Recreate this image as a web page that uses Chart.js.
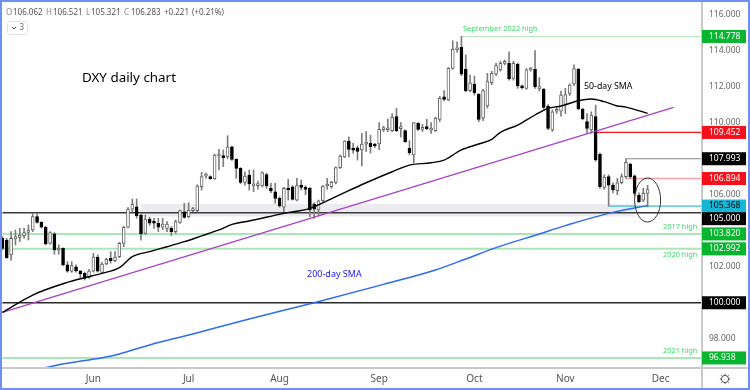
<!DOCTYPE html>
<html>
<head>
<meta charset="utf-8">
<script src="https://cdn.jsdelivr.net/npm/chart.js@4"></script>
<style>
html, body { margin: 0; padding: 0; background: #fff; }
#wrap { position: relative; width: 750px; height: 390px; }
#wrap:after { content: ''; position: absolute; left: 0; top: 0; right: 0; bottom: 0; border: 2px solid #6d90f2; box-sizing: border-box; pointer-events: none; }
canvas { display: block; }
</style>
</head>
<body>
<div id="wrap"><canvas id="myChart" width="750" height="390"></canvas></div>
<script>
// daily candles (first one early May, last one 28 Nov)
const opens = [103.58,103.48,102.65,103.54,103.63,103.72,103.91,104.04,104.78,104.46,
  104.19,103.30,103.82,102.93,103.02,102.10,101.76,102.00,101.76,101.63,
  101.41,101.76,102.54,101.69,102.15,102.47,102.34,102.56,103.30,104.19,
  105.20,105.33,104.87,103.85,104.65,104.45,104.41,104.19,104.13,104.13,
  103.95,104.46,105.05,104.78,105.11,105.11,106.44,107.03,107.00,106.89,
  108.15,108.16,108.10,108.66,107.96,107.46,106.68,107.09,106.49,106.50,
  106.48,107.12,106.35,106.16,105.79,105.30,106.35,106.44,105.70,106.53,
  106.40,106.35,105.48,105.15,105.66,106.48,106.44,106.68,107.50,108.10,
  108.97,108.57,108.60,108.48,108.80,108.85,108.75,108.81,109.61,109.60,
  109.55,110.33,109.66,109.55,108.57,108.20,109.96,109.62,109.77,109.58,
  109.55,110.18,111.43,111.25,113.01,114.03,114.17,112.97,111.77,112.14,
  111.58,110.24,110.92,112.21,112.69,112.92,113.28,113.29,112.45,113.23,
  112.03,111.90,112.92,112.95,111.86,111.84,110.92,109.59,110.63,110.63,
  111.00,111.62,112.14,112.97,110.75,110.05,109.59,110.33,108.23,106.40,
  107.00,106.53,106.22,106.66,107.00,107.70,107.05,105.98,105.70,106.062];
const highs = [103.67,103.57,103.95,104.04,104.13,104.13,104.32,104.96,104.96,104.50,
  104.25,103.95,103.90,103.21,103.05,102.28,102.28,102.10,101.80,101.70,
  101.85,102.74,102.65,102.25,102.47,102.84,102.84,103.35,104.25,105.28,
  105.76,105.76,104.95,104.87,104.75,104.69,104.69,104.69,104.50,104.22,
  104.59,105.15,105.52,105.55,105.30,106.55,107.24,107.20,107.05,108.25,
  108.51,108.48,109.27,108.70,108.00,107.50,107.27,107.37,107.37,106.75,
  107.27,107.18,106.63,106.63,105.89,106.40,106.85,106.50,106.90,106.81,
  106.50,106.40,105.55,105.70,106.50,106.90,106.75,107.55,108.20,109.00,
  109.20,108.85,108.70,109.40,109.50,109.30,108.85,110.00,109.80,110.20,
  110.50,110.79,110.00,109.60,109.00,110.00,110.00,109.90,110.18,110.00,
  110.30,111.45,111.77,113.05,114.54,114.48,114.78,113.75,112.64,112.58,
  111.60,111.85,112.73,112.85,113.30,113.40,113.47,113.93,113.40,113.30,
  112.10,113.00,113.05,113.99,112.50,111.90,111.00,110.70,110.90,111.75,
  111.90,112.15,113.20,113.00,110.80,110.50,110.60,110.97,108.30,107.10,
  107.10,106.65,106.90,107.15,107.99,107.75,107.10,106.10,106.35,106.521];
const lows = [102.93,102.47,102.37,103.21,103.39,103.58,103.48,103.95,104.41,104.15,
  103.21,103.25,102.69,102.69,102.05,101.69,101.69,101.70,101.39,101.26,
  101.35,101.70,101.70,101.65,102.10,102.20,102.28,102.50,103.11,104.15,
  105.05,104.69,103.48,103.80,104.30,104.13,103.95,104.05,103.95,103.72,
  103.85,104.40,104.69,104.70,105.05,105.05,106.25,106.90,106.85,106.85,
  107.37,107.55,108.00,107.90,106.90,106.60,106.53,106.25,106.16,106.30,
  106.42,106.35,106.11,105.52,105.30,105.05,105.70,105.70,105.65,106.26,
  106.00,104.78,104.68,104.87,105.60,106.30,106.35,106.60,107.45,108.05,
  108.10,108.30,107.92,107.60,108.40,108.30,108.60,108.50,109.50,109.50,
  109.50,109.50,109.20,108.90,108.20,107.74,109.55,109.50,109.60,109.40,
  109.50,110.05,111.20,111.20,112.95,113.90,112.60,111.70,111.70,111.53,
  110.05,110.10,110.80,112.10,112.60,112.85,113.20,112.35,112.35,111.90,
  111.85,111.85,112.85,111.90,111.75,110.75,109.60,109.50,110.50,110.35,
  110.50,111.50,112.05,110.70,110.15,109.40,109.40,107.85,106.35,106.30,
  105.37,106.10,106.00,106.60,106.90,106.90,105.95,105.55,105.60,105.321];
const closes = [103.02,102.50,103.58,103.67,103.76,103.89,104.04,104.78,104.46,104.19,
  103.26,103.89,102.93,103.02,102.10,101.76,102.06,101.78,101.60,101.35,
  101.76,102.54,101.76,102.15,102.41,102.34,102.54,103.30,104.19,105.20,
  105.46,104.83,103.82,104.65,104.41,104.41,104.19,104.37,104.37,103.95,
  104.50,105.11,104.74,105.15,105.18,106.48,107.00,107.07,106.89,108.20,
  108.16,108.05,108.66,107.96,107.46,106.68,107.03,106.59,106.53,106.52,
  107.22,106.48,106.20,105.79,105.37,106.35,106.26,105.74,106.50,106.40,
  106.29,105.15,105.20,105.66,106.48,106.50,106.68,107.50,108.14,108.97,
  108.51,108.47,108.40,108.81,108.82,108.66,108.70,109.62,109.63,109.66,
  110.29,109.53,109.68,108.94,108.33,110.00,109.62,109.73,109.66,109.62,
  110.23,111.34,111.28,113.01,114.06,114.15,112.69,111.77,112.21,111.66,
  110.18,111.77,112.27,112.73,113.16,113.29,113.29,112.42,113.29,112.03,
  111.93,112.92,112.95,111.99,111.99,110.84,109.68,110.60,110.67,111.53,
  111.55,112.08,113.00,110.75,110.20,109.68,110.42,107.92,106.44,106.96,
  106.53,106.26,106.66,107.00,107.79,107.00,106.07,105.61,106.07,106.283];

// moving averages, read at a few candles along each curve
const sma50Days = [0,7,15,19,23,27,30,34,38,42,46,50,53,57,65,71,77,84,90,94,99,102,106,110,113,115,119,123,126,129,133,136,139,142,144,149];
const sma50Vals = [99.47,100.43,101.13,101.39,101.63,101.95,102.56,102.84,103.11,103.39,103.71,104.04,104.35,104.54,104.96,105.24,105.89,106.66,107.27,107.64,107.77,107.92,108.48,108.81,109.07,109.46,109.86,110.42,110.79,110.92,111.21,111.31,111.16,110.92,110.86,110.51];
const sma200Days = [9,15,23,27,34,44,57,72,88,100,107,114,124,130,140,149];
const sma200Vals = [96.36,96.64,96.95,97.16,97.66,98.27,99.10,100.00,101.02,101.82,102.43,103.06,103.82,104.28,104.96,105.39];

const trendDays = [0,155];
const trendVals = [99.47,110.84];

// horizontal levels and where each one starts
const levelVals = [114.778,109.452,107.993,106.894,105.368,105,103.82,102.992,100,96.938];
const levelDays = [106,137,144,144,140,0,0,0,0,0];
const zoneDays = [32,146];
const zoneVals = [105.48,104.79];

const plainTicks = [116,114,112,110,106,102,98];
const monthDays = [21,43,64,87,109,130,152];
const monthNames = ['Jun','Jul','Aug','Sep','Oct','Nov','Dec'];

const xMin = -0.1, xMax = 161.56;
const yMin = 96.38, yMax = 116.69;
const FONT = '"Noto Sans", sans-serif';

const levelColors = ['#b5e6bd','#f5141e','#8a8a8a','#f9a3aa','#45bcd2','#3a3a3a','#abe6b8','#abe6b8','#2a2a2a','#abe6b8'];
const levelWidths = [1,1.2,1.2,1.5,1.2,1.5,2,2,1.5,2];
const boxColors = ['#08b52f','#f5101c','#000000','#f5101c','#17b6d6','#000000','#08b52f','#08b52f','#000000','#08b52f'];
const boxText = ['#fff','#fff','#fff','#fff','#000','#fff','#fff','#fff','#fff','#fff'];
const boxNudge = [0,0,0,0,0,6,0,0,0,0];

let days = opens.map((o, i) => i);

let datasets = [];
datasets.push({
  type: 'line', order: 10, borderWidth: 0, pointRadius: 0,
  backgroundColor: '#ececf0', fill: {value: zoneVals[1]},
  data: zoneDays.map(d => ({x: d, y: zoneVals[0]}))
});
levelVals.forEach((v, k) => {
  datasets.push({
    type: 'line', order: 8, pointRadius: 0,
    borderColor: levelColors[k], borderWidth: levelWidths[k],
    data: [{x: levelDays[k], y: v}, {x: xMax, y: v}]
  });
});
datasets.push({
  type: 'bar', order: 5, barThickness: 1, grouped: false,
  backgroundColor: '#7d7d7d',
  data: days.map(i => ({x: i, y: [lows[i], highs[i]]}))
});
datasets.push({
  type: 'bar', order: 4, barThickness: 3, grouped: false, minBarLength: 2,
  borderWidth: 1, borderSkipped: false,
  borderColor: ctx => closes[ctx.dataIndex] >= opens[ctx.dataIndex] ? '#666' : '#000',
  backgroundColor: ctx => closes[ctx.dataIndex] >= opens[ctx.dataIndex] ? '#fff' : '#000',
  data: days.map(i => ({x: i, y: [opens[i], closes[i]]}))
});
datasets.push({
  type: 'line', order: 3, pointRadius: 0, borderColor: '#a83fc4', borderWidth: 1.2,
  data: trendDays.map((d, i) => ({x: d, y: trendVals[i]}))
});
datasets.push({
  type: 'line', order: 2, pointRadius: 0, borderColor: '#2f6bf0', borderWidth: 1.5, cubicInterpolationMode: 'monotone',
  data: sma200Days.map((d, i) => ({x: d, y: sma200Vals[i]}))
});
datasets.push({
  type: 'line', order: 1, pointRadius: 0, borderColor: '#000', borderWidth: 1.4, cubicInterpolationMode: 'monotone',
  data: sma50Days.map((d, i) => ({x: d, y: sma50Vals[i]}))
});

// the texts on the chart, the circle round the last candles and the window frame
const chartNotes = {
  id: 'chartNotes',
  afterDraw(chart) {
    const c = chart.ctx, xs = chart.scales.x, ys = chart.scales.y, a = chart.chartArea;
    c.save();
    // axis lines run on past the plot
    c.strokeStyle = '#c9c9c9';
    c.lineWidth = 2;
    c.beginPath();
    c.moveTo(a.right, 2); c.lineTo(a.right, 388);
    c.moveTo(2, a.bottom); c.lineTo(748, a.bottom);
    c.stroke();

    // price boxes on the axis
    c.textBaseline = 'middle';
    levelVals.forEach((v, k) => {
      let py = ys.getPixelForValue(v) + boxNudge[k];
      c.fillStyle = boxColors[k];
      c.fillRect(a.right, py - 6.5, 44, 13);
      c.font = '8.5px ' + FONT;
      c.textAlign = 'left';
      c.fillStyle = boxText[k];
      c.fillText(v.toFixed(3), a.right + 7, py);
    });

    c.strokeStyle = '#333';
    c.lineWidth = 1;
    c.beginPath();
    c.ellipse(xs.getPixelForValue(149), ys.getPixelForValue(105.7), 13, 22, 0, 0, Math.PI * 2);
    c.stroke();

    c.textAlign = 'left';
    function note(t, x, y, color, size) {
      c.font = size + 'px ' + FONT;
      c.fillStyle = color;
      c.fillText(t, x, y);
    }
    note('DXY daily chart', 82, 78, '#000', 13.4);
    note('September 2022 high', 463, 29, '#3fd968', 7.4);
    note('50-day SMA', 584, 86, '#000', 8.8);
    note('200-day SMA', 307, 274, '#2020ee', 9);
    note('2017 high', 663, 227, '#3fd968', 7.4);
    note('2020 high', 663, 255, '#3fd968', 7.4);
    note('2021 high', 663, 351, '#3fd968', 7.4);

    // ohlc header
    [['O',6,'#888'],['106.062',13,'#555'],['H',46,'#888'],['106.521',53,'#555'],['L',86,'#888'],['105.321',91,'#555'],
     ['C',124,'#888'],['106.283',131,'#555'],['+0.221',164,'#555'],['(+0.21%)',192,'#555']].forEach(p => {
      note(p[0], p[1], 13, p[2], 8);
    });

    // collapse button
    c.strokeStyle = '#e2e2e2';
    c.beginPath();
    c.roundRect(7.5, 21.5, 20, 13, 2);
    c.stroke();
    c.strokeStyle = '#444';
    c.beginPath();
    c.moveTo(12, 27); c.lineTo(14, 29); c.lineTo(16, 27);
    c.stroke();
    note('3', 19.5, 28, '#666', 8);

    // settings gear
    c.strokeStyle = '#555';
    c.lineWidth = 1;
    c.beginPath();
    c.arc(725, 379, 3.6, 0, Math.PI * 2);
    c.stroke();
    for (let i = 0; i < 8; i++) {
      let t = i * Math.PI / 4;
      c.beginPath();
      c.moveTo(725 + Math.cos(t) * 3.6, 379 + Math.sin(t) * 3.6);
      c.lineTo(725 + Math.cos(t) * 5.2, 379 + Math.sin(t) * 5.2);
      c.stroke();
    }
    c.restore();
  }
};

function noPad(s) { s.paddingLeft = 0; s.paddingRight = 0; s.paddingTop = 0; s.paddingBottom = 0 }

let myChart = new Chart(document.getElementById('myChart'), {
  data: {datasets: datasets},
  plugins: [chartNotes],
  options: {
    responsive: false,
    animation: false,
    layout: {padding: {left: 2, top: 2, right: 2, bottom: 2}},
    plugins: {legend: {display: false}, tooltip: {enabled: false}, title: {display: false}},
    scales: {
      x: {
        type: 'linear', min: xMin, max: xMax, offset: false,
        grid: {display: false, drawTicks: false}, border: {display: false},
        afterBuildTicks: s => { s.ticks = monthDays.map(d => ({value: d})) },
        afterFit: s => { s.height = 20; noPad(s) },
        ticks: {
          autoSkip: false, maxRotation: 0, padding: 5,
          color: '#555', font: {family: FONT, size: 10},
          callback: v => monthNames[monthDays.indexOf(v)]
        }
      },
      y: {
        type: 'linear', position: 'right', min: yMin, max: yMax,
        grid: {display: false, drawTicks: false}, border: {display: false},
        afterBuildTicks: s => { s.ticks = plainTicks.map(v => ({value: v})) },
        afterFit: s => { s.width = 46; noPad(s) },
        ticks: {
          autoSkip: false, padding: 7,
          font: {family: FONT, size: 8.5},
          callback: v => v.toFixed(3),
          color: '#666'
        }
      }
    }
  }
});
</script>
</body>
</html>
